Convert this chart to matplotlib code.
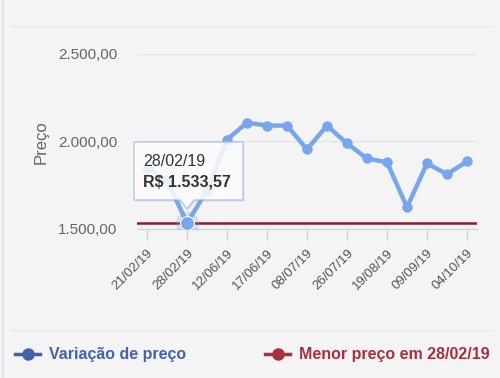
import matplotlib
matplotlib.use("Agg")
import matplotlib.pyplot as plt
from matplotlib.lines import Line2D
from matplotlib.patches import Polygon

# ---- data ----
prices = [1850, 1780, 1533.57, 1720, 2011, 2108, 2091, 2091, 1955, 2091,
          1989, 1903, 1881, 1625, 1875, 1813, 1886]
tick_labels = ["21/02/19", "28/02/19", "12/06/19", "17/06/19", "08/07/19",
               "26/07/19", "19/08/19", "09/09/19", "04/10/19"]
y_ticks = [1500, 2000, 2500]
y_tick_labels = ["1.500,00", "2.000,00", "2.500,00"]
min_price = 1533.57
min_index = 2
tooltip_date = "28/02/19"
tooltip_value = "R$ 1.533,57"
series_name = "Variação de preço"
min_name = "Menor preço em 28/02/19"

plt.rcParams['font.family'] = ['Liberation Sans', 'DejaVu Sans']

W, H = 500, 378
fig = plt.figure(figsize=(W / 100, H / 100), dpi=100)
fig.patch.set_facecolor("#f4f4f4")

def fx(px):
    return px / W

def fy(py):
    return 1 - py / H

# panel decorations
fig.add_artist(Line2D([fx(3), fx(3)], [0, 1], color="#e4e4e4", lw=1.5, transform=fig.transFigure))
fig.add_artist(Line2D([fx(10), fx(492)], [fy(26), fy(26)], color="#e8e8e8", lw=1, transform=fig.transFigure))
fig.add_artist(Line2D([fx(10), fx(492)], [fy(330), fy(330)], color="#e8e8e8", lw=1, transform=fig.transFigure))

ax = fig.add_axes([fx(137), fy(229), fx(477) - fx(137), fy(54) - fy(229)])
ax.set_facecolor("none")

x = list(range(len(prices)))
series_color = "#78a6ec"

ax.axhline(min_price, color="#8c1c2c", lw=1.8, zorder=2)
ax.plot(x, prices, color=series_color, lw=3.2, marker="o", ms=7.5,
        markeredgewidth=0, zorder=3, solid_capstyle="round", solid_joinstyle="round")
# highlighted point
ax.plot([x[min_index]], [prices[min_index]], "o", ms=17, color=series_color, alpha=0.25,
        markeredgewidth=0, zorder=4)
ax.plot([x[min_index]], [prices[min_index]], "o", ms=10, color=series_color,
        markeredgecolor="#ffffff", markeredgewidth=0.8, zorder=5)

ax.set_xlim(-0.5, len(prices) - 0.5)
ax.set_ylim(1500, 2500)
ax.set_yticks(y_ticks)
ax.set_yticklabels(y_tick_labels, fontsize=11, color="#666666")
ax.set_xticks(x[::2])
ax.set_xticklabels(tick_labels, rotation=45, ha="right", va="top",
                   rotation_mode="anchor", fontsize=9.5, color="#555555")
ax.tick_params(axis="y", length=0, pad=14)
ax.tick_params(axis="x", length=8, width=1, color="#ccd6eb", pad=5)
ax.grid(axis="y", color="#e4e4e4", lw=1)
ax.set_axisbelow(True)
for s in ["top", "right", "left"]:
    ax.spines[s].set_visible(False)
ax.spines["bottom"].set_color("#ccd6eb")
ax.spines["bottom"].set_linewidth(1)

fig.text(fx(41), fy(142), "Preço", rotation=90, ha="center", va="center",
         fontsize=12, color="#666666")

# tooltip
l, r, t, b = 134, 243, 142, 200
px_tip, tipy = 187, 209
pts = [(l, t), (r, t), (r, b), (px_tip + 7, b), (px_tip, tipy), (px_tip - 7, b), (l, b)]
shadow = Polygon([(fx(a + 1.5), fy(c + 1.5)) for a, c in pts], closed=True,
                 transform=fig.transFigure, facecolor="#000000", alpha=0.08,
                 edgecolor="none", zorder=9)
fig.add_artist(shadow)
tip = Polygon([(fx(a), fy(c)) for a, c in pts], closed=True, transform=fig.transFigure,
              facecolor="#ffffff", alpha=0.85, edgecolor="#a4bfe8", lw=1, zorder=10)
fig.add_artist(tip)
fig.text(fx(143), fy(161), tooltip_date, ha="left", va="center", fontsize=11.5,
         color="#333333", zorder=11)
fig.text(fx(143), fy(182), tooltip_value, ha="left", va="center", fontsize=11.5,
         fontweight="bold", color="#333333", zorder=11)

# legend
blue_leg = "#4462aa"
red_leg = "#a8303f"
fig.add_artist(Line2D([fx(15), fx(40)], [fy(354), fy(354)], color=blue_leg, lw=2.5,
                      transform=fig.transFigure))
fig.add_artist(Line2D([fx(27.5)], [fy(354)], color=blue_leg, marker="o", ms=8, lw=0,
                      transform=fig.transFigure))
fig.text(fx(49), fy(354), series_name, ha="left", va="center", fontsize=11.5,
         fontweight="bold", color=blue_leg)
fig.add_artist(Line2D([fx(265), fx(290)], [fy(354), fy(354)], color=red_leg, lw=2.5,
                      transform=fig.transFigure))
fig.add_artist(Line2D([fx(277.5)], [fy(354)], color=red_leg, marker="o", ms=8, lw=0,
                      transform=fig.transFigure))
fig.text(fx(299), fy(354), min_name, ha="left", va="center", fontsize=11.5,
         fontweight="bold", color=red_leg)

fig.savefig("out.png", dpi=100, facecolor=fig.get_facecolor())
